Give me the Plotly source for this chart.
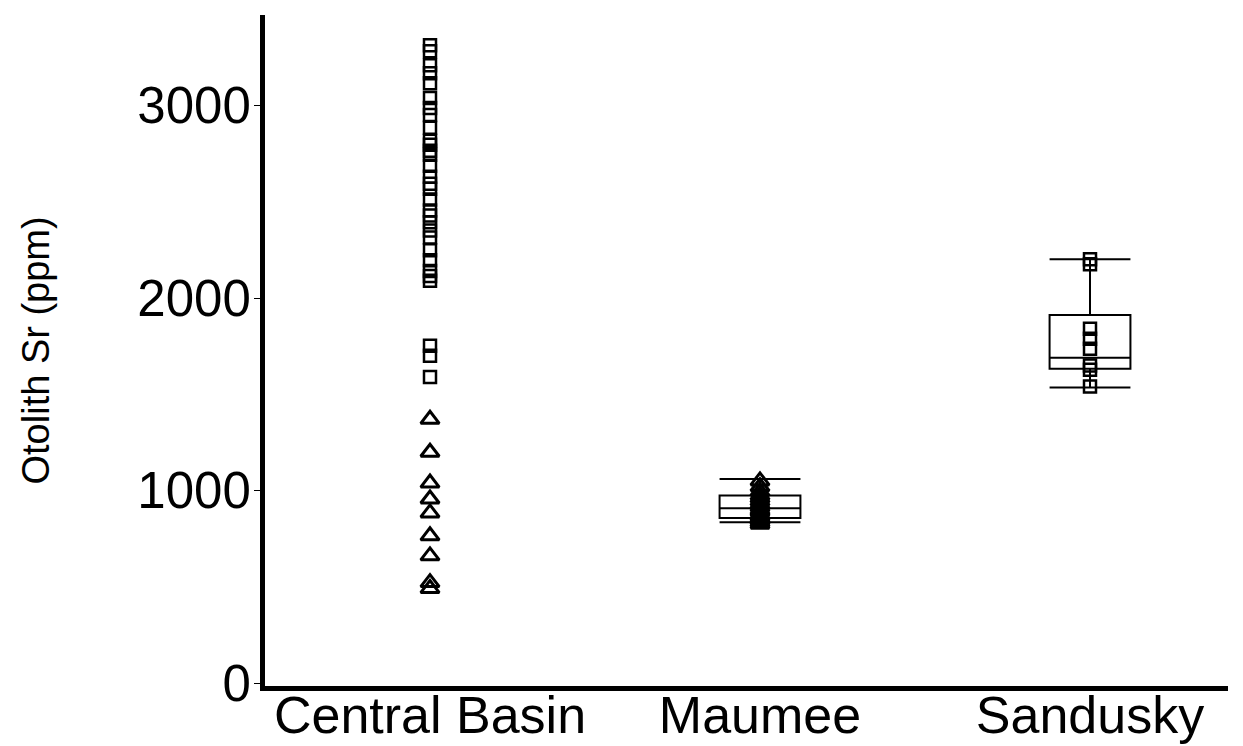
import plotly.graph_objects as go

categories = ["Central Basin", "Maumee", "Sandusky"]
y_ticks = [0, 1000, 2000, 3000]

# Central Basin: squares (upper group) and triangles (lower group)
cb_squares = [3313, 3282, 3209, 3168, 3116, 3039, 2987, 2951, 2884, 2817, 2796,
              2765, 2744, 2687, 2630, 2594, 2568, 2512, 2455, 2429, 2393, 2351,
              2315, 2248, 2196, 2140, 2114, 2090, 1752, 1700, 1590]
cb_triangles = [1370, 1199, 1039, 956, 884, 765, 661, 522, 491]

# Maumee: triangles
maumee_triangles = [1050, 1020, 995, 975, 960, 945, 930, 915, 900, 890, 875,
                    865, 855, 845, 835, 825]
# Sandusky: squares
sandusky_squares = [2202, 2176, 1840, 1788, 1736, 1649, 1628, 1540]

# Box statistics (Maumee, Sandusky)
box_cats = [1, 2]
box_lower = [835, 1535]
box_q1 = [858, 1633]
box_median = [908, 1690]
box_q3 = [975, 1912]
box_upper = [1060, 2202]

fig = go.Figure()

fig.add_trace(go.Box(
    x=box_cats, lowerfence=box_lower, q1=box_q1, median=box_median,
    q3=box_q3, upperfence=box_upper, boxpoints=False, width=0.245,
    whiskerwidth=1, fillcolor="rgba(255,255,255,0)",
    line=dict(color="black", width=2), showlegend=False, hoverinfo="skip"))

sq = dict(symbol="square-open", size=12, color="black", line=dict(width=2.5, color="black"))
tri = dict(symbol="triangle-up-open", size=16, color="black", line=dict(width=3, color="black"))

fig.add_trace(go.Scatter(x=[0] * len(cb_squares), y=cb_squares, mode="markers",
                         marker=sq, showlegend=False))
fig.add_trace(go.Scatter(x=[0] * len(cb_triangles), y=cb_triangles, mode="markers",
                         marker=tri, showlegend=False))
fig.add_trace(go.Scatter(x=[1] * len(maumee_triangles), y=maumee_triangles, mode="markers",
                         marker=tri, showlegend=False))
fig.add_trace(go.Scatter(x=[2] * len(sandusky_squares), y=sandusky_squares, mode="markers",
                         marker=sq, showlegend=False))

font = "Liberation Sans, Arial, sans-serif"
L = 265
W = 1228 - L
fig.update_layout(
    width=1243, height=746,
    margin=dict(l=L, r=1243 - 1228, t=15, b=60, autoexpand=False),
    plot_bgcolor="white", paper_bgcolor="white",
    font=dict(family=font, color="black"),
    xaxis=dict(range=[-(430 - L) / 330, 2 + (1228 - 1090) / 330], tickvals=[0, 1, 2],
               ticktext=categories, automargin=False, ticklabelstandoff=-20,
               showgrid=False, zeroline=False, showline=True, linecolor="black",
               linewidth=5, ticks="", tickfont=dict(size=52, family=font, color="black")),
    yaxis=dict(range=[-15, 3470], tickvals=y_ticks, showgrid=False, zeroline=False,
               automargin=False, ticklabelstandoff=-7,
               showline=True, linecolor="black", linewidth=5, ticks="outside",
               ticklen=6, tickwidth=1, tickcolor="black",
               tickfont=dict(size=51, family=font, color="black")),
    annotations=[dict(text="Otolith Sr (ppm)", xref="paper", yref="paper",
                      x=(35 - L) / W, y=0.5, xanchor="center", yanchor="middle",
                      textangle=-90, showarrow=False,
                      font=dict(size=38, family=font, color="black"))],
)

fig.write_html("out.html")
